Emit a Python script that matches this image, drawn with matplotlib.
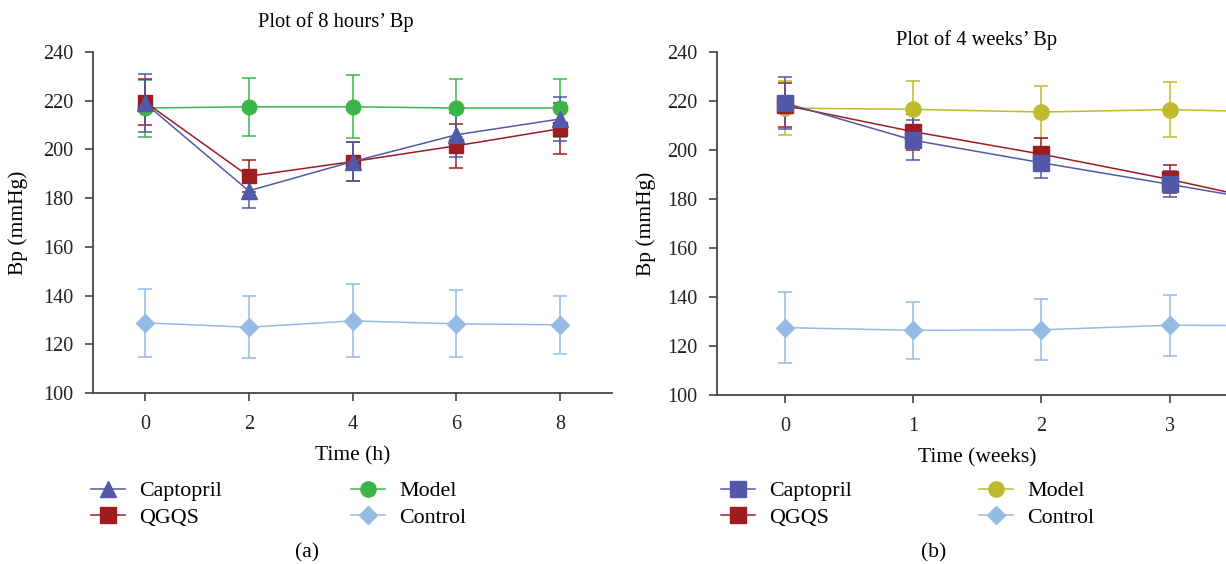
import matplotlib
matplotlib.use("Agg")
import matplotlib.pyplot as plt
from matplotlib.lines import Line2D

plt.rcParams['font.family'] = ['Liberation Serif', 'DejaVu Serif']
plt.rcParams['font.size'] = 14

# panel (a): 8 hours
hours = [0, 2, 4, 6, 8]
capto_h = [219, 183, 195, 206, 212.5]
capto_h_err = [12, 7, 8, 9, 9]
qgqs_h = [219.5, 189, 195, 201.5, 208.5]
qgqs_h_err = [9.5, 6.5, 8, 9, 10.5]
model_h = [217, 217.5, 217.5, 217, 217]
model_h_err = [11.7, 11.8, 12.9, 11.8, 11.8]
control_h = [128.8, 127, 129.6, 128.4, 128]
control_h_err = [14, 12.8, 15, 13.7, 11.8]

# panel (b): 4 weeks
weeks = [0, 1, 2, 3, 4]
capto_w = [219.2, 204, 194.8, 186, 177]
capto_w_err = [10.8, 8.2, 6.4, 5.3, 5]
qgqs_w = [218.2, 207.5, 198.3, 188, 176.5]
qgqs_w_err = [9, 7.3, 6.5, 5.7, 5.5]
model_w = [217.1, 216.6, 215.5, 216.5, 215.3]
model_w_err = [10.9, 11.7, 10.8, 11.3, 11]
control_w = [127.5, 126.4, 126.6, 128.5, 128.2]
control_w_err = [14.5, 11.7, 12.4, 12.4, 12]

c_capto = '#5259a8'
c_qgqs = '#9c1c1f'
c_model_a = '#3bb54a'
c_model_b = '#bdbb2c'
c_control = '#95bbe5'

fig = plt.figure(figsize=(12.26, 5.64), dpi=100)
ax1 = fig.add_axes([93/1226, 171/564, 519/1226, 341/564])
ax2 = fig.add_axes([717/1226, 169/564, 509/1226, 343/564])


def draw(ax, x, y, err, color, marker, ms):
    ax.errorbar(x, y, yerr=err, color=color, marker=marker, markersize=ms,
                linewidth=1.1, elinewidth=1.1, capsize=5, capthick=1.1,
                markeredgecolor=color)


draw(ax1, hours, control_h, control_h_err, c_control, 'D', 9)
draw(ax1, hours, model_h, model_h_err, c_model_a, 'o', 10.5)
draw(ax1, hours, qgqs_h, qgqs_h_err, c_qgqs, 's', 10.5)
draw(ax1, hours, capto_h, capto_h_err, c_capto, '^', 11)

draw(ax2, weeks, control_w, control_w_err, c_control, 'D', 9)
draw(ax2, weeks, model_w, model_w_err, c_model_b, 'o', 11)
draw(ax2, weeks, qgqs_w, qgqs_w_err, c_qgqs, 's', 11)
draw(ax2, weeks, capto_w, capto_w_err, c_capto, 's', 11)

for ax in (ax1, ax2):
    ax.set_ylim(100, 240)
    ax.set_yticks(range(100, 241, 20))
    ax.spines['top'].set_visible(False)
    ax.spines['right'].set_visible(False)
    for s in ('left', 'bottom'):
        ax.spines[s].set_color('#444444')
        ax.spines[s].set_linewidth(1.3)
    ax.tick_params(direction='out', length=6, width=1.2, color='#444444',
                   labelsize=14.5, labelcolor='#222222')
    ax.tick_params(axis='x', pad=10)
    ax.tick_params(axis='y', pad=8)

ax1.set_xlim(-1, 9)
ax1.set_xticks(hours)
ax2.set_xlim(-0.53, 3.44)
ax2.set_xticks([0, 1, 2, 3])

ax1.set_title("Plot of 8 hours\u2019 Bp", fontsize=14.8, x=0.468, pad=18)
ax2.set_title("Plot of 4 weeks\u2019 Bp", fontsize=14.8, x=0.509, pad=5)
ax1.set_xlabel("Time (h)", fontsize=15.5)
ax1.xaxis.set_label_coords(0.5, -0.155)
ax2.set_xlabel("Time (weeks)", fontsize=15.5)
ax2.xaxis.set_label_coords(0.511, -0.155)
ax1.set_ylabel("Bp (mmHg)", fontsize=15.5)
ax1.yaxis.set_label_coords(-0.125, 0.5)
ax2.set_ylabel("Bp (mmHg)", fontsize=15.5)
ax2.yaxis.set_label_coords(-0.12, 0.5)


def handle(color, marker, ms):
    return Line2D([], [], color=color, marker=marker, markersize=ms, linewidth=1.1)


def col_legend(handles, labels, x, y):
    fig.legend(handles, labels, loc='upper left', bbox_to_anchor=(x/1226, 1 - y/564),
               frameon=False, fontsize=15.8, borderpad=0, borderaxespad=0,
               handlelength=1.55, handletextpad=0.65, labelspacing=0.28)


col_legend([handle(c_capto, '^', 11), handle(c_qgqs, 's', 11)], ['Captopril', 'QGQS'], 91, 481)
col_legend([handle(c_model_a, 'o', 11), handle(c_control, 'D', 9)], ['Model', 'Control'], 351, 481)
col_legend([handle(c_capto, 's', 11), handle(c_qgqs, 's', 11)], ['Captopril', 'QGQS'], 721, 481)
col_legend([handle(c_model_b, 'o', 11), handle(c_control, 'D', 9)], ['Model', 'Control'], 979, 481)

fig.text(307/1226, 1 - 553/564, "(a)", ha='center', va='center', fontsize=15.5)
fig.text(934/1226, 1 - 553/564, "(b)", ha='center', va='center', fontsize=15.5)

fig.savefig("out.png", dpi=100)
